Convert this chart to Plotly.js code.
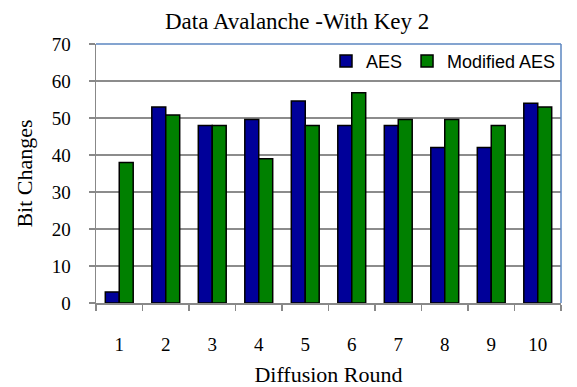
<!DOCTYPE html>
<html><head><meta charset="utf-8">
<script src="https://cdn.plot.ly/plotly-3.0.1.min.js"></script>
<style>body{margin:0;background:#fff}#c{width:577px;height:387px}</style>
</head><body><div id="c"></div>
<script>
const rounds = ['1','2','3','4','5','6','7','8','9','10'];
const aes = [3, 53, 48, 49.6, 54.6, 48, 48, 42, 42, 54];
const modAes = [38, 50.8, 48, 39, 48, 56.8, 49.6, 49.6, 48, 53];
const yTicks = [0,10,20,30,40,50,60,70];

const serif = 'Liberation Serif, Times New Roman, serif';
const sans = 'Liberation Sans, Arial, sans-serif';

const data = [
  {type:'bar', name:'AES', x:rounds, y:aes,
   marker:{color:'#000099', line:{color:'#000', width:1.5}}},
  {type:'bar', name:'Modified AES', x:rounds, y:modAes,
   marker:{color:'#008000', line:{color:'#000', width:1.5}}}
];
const layout = {
  width:577, height:387,
  margin:{l:96, r:16, t:44, b:84},
  paper_bgcolor:'#fff', plot_bgcolor:'#fff',
  barmode:'group', bargap:0.4, bargroupgap:0,
  title:{text:'Data Avalanche -With Key 2', font:{family:serif, size:23, color:'#000'},
         x:0.515, xanchor:'center', y:0.945, yanchor:'middle', xref:'container'},
  xaxis:{type:'category', tickson:'boundaries', ticks:'outside', ticklen:6, tickcolor:'#888', tickwidth:1.5,
         showline:true, linecolor:'#888', linewidth:1.5, showgrid:false,
         tickfont:{family:serif, size:19, color:'#000'}, ticklabelstandoff:24,
         title:{text:'Diffusion Round', font:{family:serif, size:22, color:'#000'}, standoff:18}},
  yaxis:{range:[0,70], tickvals:yTicks, ticks:'outside', ticklen:6, tickcolor:'#888', tickwidth:1.5,
         showline:true, linecolor:'#888', linewidth:1.5,
         showgrid:true, gridcolor:'#8c8c8c', gridwidth:1.5, zeroline:false,
         tickfont:{family:serif, size:19, color:'#000'}, ticklabelstandoff:14,
         title:{text:'Bit Changes', font:{family:serif, size:22, color:'#000'}, standoff:13}},
  legend:{orientation:'h', x:1, xanchor:'right', y:1.005, yanchor:'top', itemwidth:30,
          font:{family:sans, size:18, color:'#000'}, bgcolor:'rgba(0,0,0,0)', traceorder:'normal'},
  shapes:[
    {type:'line', xref:'paper', yref:'paper', x0:0, x1:1, y0:1, y1:1, line:{color:'#5b86c0', width:1.5}},
    {type:'line', xref:'paper', yref:'paper', x0:1, x1:1, y0:0, y1:1, line:{color:'#5b86c0', width:1.5}}
  ],
  showlegend:true
};
Plotly.newPlot('c', data, layout, {displayModeBar:false, staticPlot:true});
</script></body></html>
